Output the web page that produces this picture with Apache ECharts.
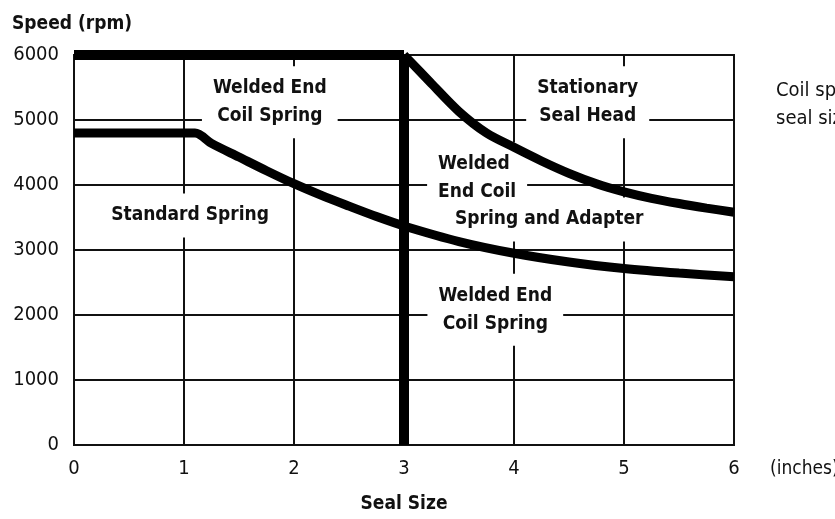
<!DOCTYPE html>
<html>
<head>
<meta charset="utf-8">
<script src="https://cdn.jsdelivr.net/npm/echarts@6/dist/echarts.min.js"></script>
<style>html,body{margin:0;padding:0;background:#fff;}#c{width:835px;height:519px;}</style>
</head>
<body>
<div id="c"></div>
<script>
// Data
const xTicks = [0, 1, 2, 3, 4, 5, 6];
const yTicks = [0, 1000, 2000, 3000, 4000, 5000, 6000];
const stdX = [0, 1.1, 1.25, 1.5, 1.75, 2, 2.25, 2.5, 2.75, 3, 3.5, 4, 4.5, 5, 5.5, 6];
const stdY = [4800, 4800, 4640, 4430, 4220, 4020, 3840, 3675, 3515, 3370, 3130, 2950, 2815, 2715, 2645, 2590];
const headX = [3, 3.25, 3.5, 3.75, 4, 4.25, 4.5, 4.75, 5, 5.25, 5.5, 5.75, 6];
const headY = [6000, 5560, 5130, 4800, 4580, 4370, 4180, 4020, 3895, 3795, 3715, 3645, 3580];
const limitSize = 3;
const maxSpeed = 6000;
const regionNames = ['Welded End\nCoil Spring', 'Stationary\nSeal Head', 'Standard Spring', 'Welded\nEnd Coil', 'Spring and Adapter', 'Welded End\nCoil Spring'];
const regionX = [1.78, 4.67, 1.055, 3.21, 4.32, 3.83];
const regionY = [5275, 5275, 3530, 4100, 3470, 2080];
const regionAlign = ['center', 'center', 'center', 'left', 'center', 'center'];

const FONT = "'DejaVu Sans Condensed', 'DejaVu Sans', sans-serif";
const chart = echarts.init(document.getElementById('c'));

const labelData = regionNames.map((n, i) => ({
  value: [regionX[i], regionY[i]],
  name: n,
  label: { align: regionAlign[i] }
}));

chart.setOption({
  animation: false,
  title: {
    text: 'Speed (rpm)', left: 7, top: 10,
    textStyle: { fontFamily: FONT, fontWeight: 'bold', fontSize: 19, color: '#111' }
  },
  grid: { left: 74, right: 101, top: 55, bottom: 72, show: true, borderColor: '#111', borderWidth: 2, backgroundColor: 'transparent' },
  xAxis: {
    type: 'value', min: xTicks[0], max: xTicks[xTicks.length - 1], interval: 1,
    name: 'Seal Size', nameLocation: 'middle', nameGap: 50,
    nameTextStyle: { fontFamily: FONT, fontWeight: 'bold', fontSize: 19, color: '#111' },
    axisLine: { show: false }, axisTick: { show: false },
    axisLabel: { fontFamily: FONT, fontSize: 20, color: '#111', margin: 14 },
    splitLine: { show: true, lineStyle: { color: '#111', width: 2 } }
  },
  yAxis: {
    type: 'value', min: yTicks[0], max: yTicks[yTicks.length - 1], interval: 1000,
    axisLine: { show: false }, axisTick: { show: false },
    axisLabel: { fontFamily: FONT, fontSize: 20, color: '#111', margin: 15, formatter: v => String(v) },
    splitLine: { show: true, lineStyle: { color: '#111', width: 2 } }
  },
  graphic: [
    { type: 'text', left: 770, top: 460, style: { text: '(inches)', font: "19px " + FONT, fill: '#111' } },
    { type: 'text', left: 776, top: 77, style: { text: 'Coil spring\nseal sizes', font: "20px " + FONT, fill: '#111', lineHeight: 28 } }
  ],
  series: [
    {
      type: 'scatter', z: 2, symbolSize: 0, silent: true,
      itemStyle: { opacity: 1 },
      data: labelData,
      label: {
        show: true, position: 'inside', formatter: p => p.name,
        fontFamily: FONT, fontWeight: 'bold', fontSize: 19, color: '#111', lineHeight: 28,
        backgroundColor: '#fff', padding: [8, 11]
      }
    },
    {
      type: 'line', z: 3, symbol: 'none', smooth: 0.3,
      data: stdX.map((x, i) => [x, stdY[i]]),
      lineStyle: { color: '#000', width: 9 }
    },
    {
      type: 'line', z: 3, symbol: 'none', smooth: 0.3,
      data: headX.map((x, i) => [x, headY[i]]),
      lineStyle: { color: '#000', width: 9 }
    },
    {
      type: 'line', z: 4, symbol: 'none',
      data: [[limitSize, 0], [limitSize, maxSpeed]],
      lineStyle: { color: '#000', width: 10, cap: 'butt' }
    },
    {
      type: 'line', z: 4, symbol: 'none',
      data: [[0, maxSpeed], [limitSize, maxSpeed]],
      lineStyle: { color: '#000', width: 10, cap: 'butt' }
    }
  ]
});
</script>
</body>
</html>
